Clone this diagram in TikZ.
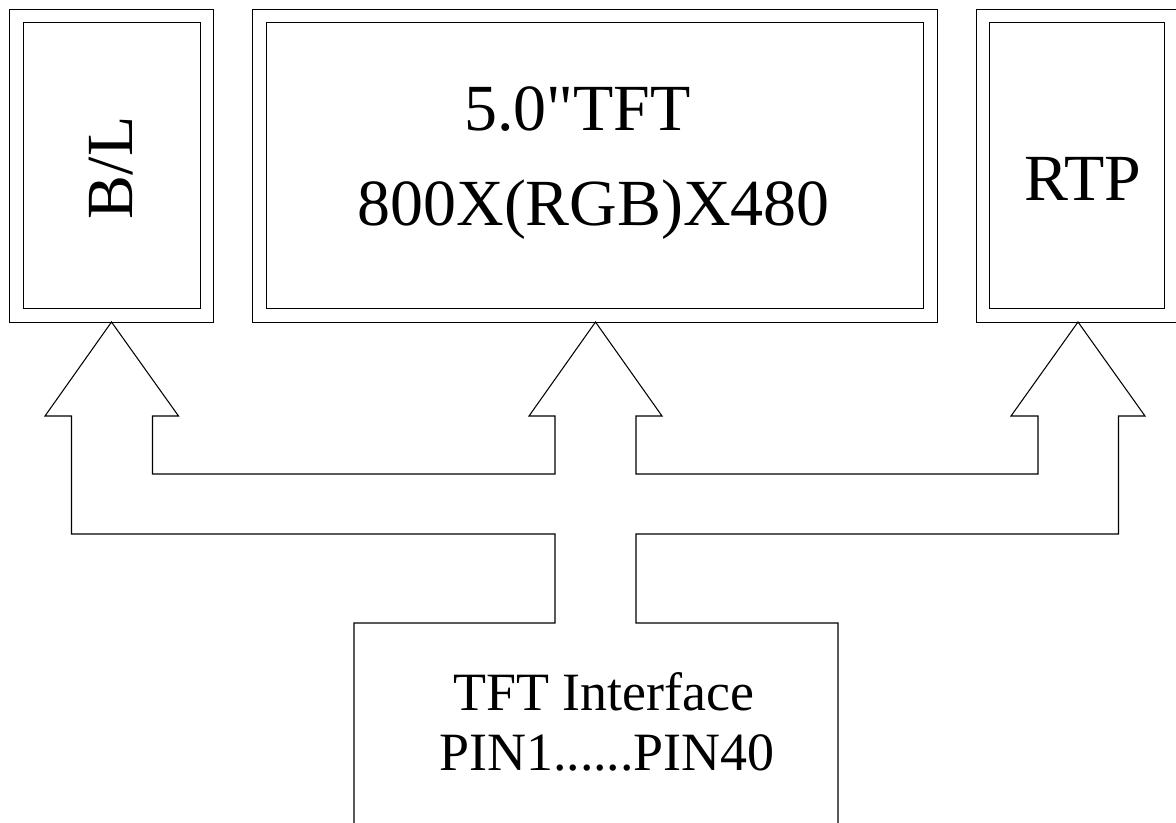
\documentclass[tikz,border=0pt]{standalone}
\usepackage{fontspec}
\setmainfont{Liberation Serif}[Ligatures=TeXOff]
\tikzset{
    panel/.style={
           rectangle,
           draw=black, line width=0.6pt,
           double, double distance=7pt,
           inner sep=0pt,
           },
    biglabel/.style={
           anchor=base,
           inner sep=0pt,
           font=\fontsize{37.5}{45}\selectfont,
           },
    smalllabel/.style={
           anchor=base,
           inner sep=0pt,
           font=\fontsize{30.7}{36}\selectfont,
           },
    bus/.style={
           draw=black,
           line width=0.6pt,
           line join=miter,
           }
}

\begin{document}
\begin{tikzpicture}[x=0.02cm,y=-0.02cm]
\useasboundingbox (0,0) rectangle (1176,822);
% the three panels
\node (bl) at (111.75,165.75) [panel, minimum width=3.81cm, minimum height=5.99cm] {};
\node (tft) at (595,165.75) [panel, minimum width=13.42cm, minimum height=5.99cm] {};
\node (rtp) at (1077,165.75) [panel, minimum width=3.76cm, minimum height=5.99cm] {};
\node (blText) at (132,168) [biglabel, rotate=90] {B/L};
\node (tftSize) at (577.5,130) [biglabel] {5.0"TFT};
\node (tftRes) at (593.7,225) [biglabel] {800X(RGB)X480};
\node (rtpText) at (1083,200) [biglabel] {RTP};
% interface block
\node (ifName) at (604,710) [smalllabel] {TFT Interface};
\node (ifPins) at (607,770) [smalllabel] {PIN1......PIN40};
% block arrows, one outline
\path[bus] (354,830) -- (354,623) -- (555,623) -- (555,534)
    -- (71.5,534) -- (71.5,416) -- (45,416) -- (111.5,322) -- (178.5,416)
    -- (152.5,416) -- (152.5,474) -- (555,474) -- (555,416) -- (529,416)
    -- (595.5,322) -- (662,416) -- (636,416) -- (636,474) -- (1038,474)
    -- (1038,416) -- (1011,416) -- (1078,322) -- (1145,416) -- (1118.5,416)
    -- (1118.5,534) -- (636,534) -- (636,623) -- (838,623) -- (838,830);
\end{tikzpicture}
\end{document}
